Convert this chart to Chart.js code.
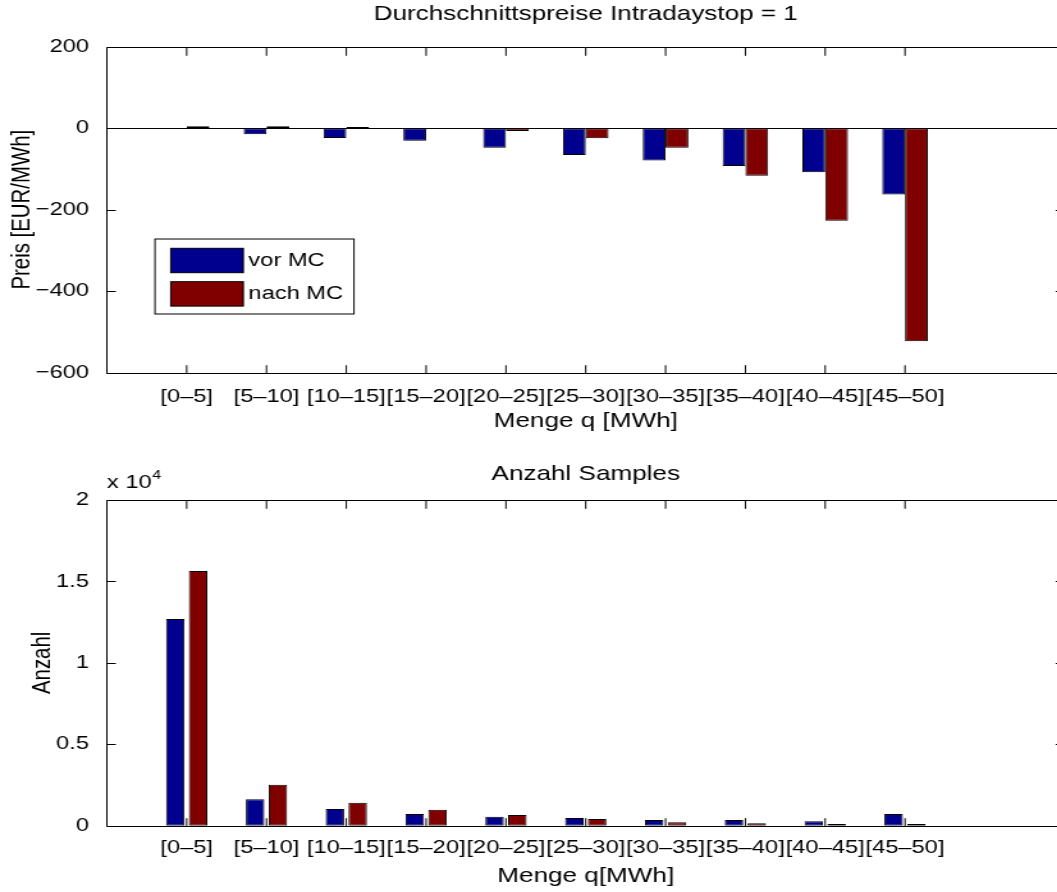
<!DOCTYPE html>
<html>
<head>
<meta charset="utf-8">
<script src="https://cdn.jsdelivr.net/npm/chart.js@4.4.0/dist/chart.umd.min.js"></script>
<style>
  html, body { margin: 0; padding: 0; background: #fff; overflow: hidden; }
  #wrap { position: relative; width: 1057px; height: 892px; overflow: hidden; }
  .panel { position: absolute; left: 0; width: 1075px; height: 446px; }
</style>
</head>
<body>
<div id="wrap">
  <div class="panel" style="top:0"><canvas id="preise" width="840" height="446" style="width:1075px;height:446px"></canvas></div>
  <div class="panel" style="top:446px"><canvas id="anzahl" width="840" height="446" style="width:1075px;height:446px"></canvas></div>
</div>
<script>
// Klassen der Menge q
const sizeLabels = ['[0–5]', '[5–10]', '[10–15]', '[15–20]', '[20–25]', '[25–30]', '[30–35]', '[35–40]', '[40–45]', '[45–50]'];
const seriesNames = ['vor MC', 'nach MC'];

// Durchschnittspreise [EUR/MWh]
const vorPreis  = [-1, -15, -24, -31, -48, -66, -79, -93, -108, -163];
const nachPreis = [5, 5, 3, -1, -7, -25, -48, -117, -227, -523];

// Anzahl Samples
const vorAnzahl  = [12690, 1620, 1025, 716, 553, 471, 348, 348, 266, 716];
const nachAnzahl = [15640, 2518, 1412, 982, 655, 409, 205, 143, 102, 102];

const preisTicks = [-600, -400, -200, 0, 200];
const anzahlTicks = [0, 5000, 10000, 15000, 20000];

const blue = 'rgb(0,0,143)';
const red = 'rgb(128,0,0)';
const fam = '"Liberation Sans", Arial, Helvetica, sans-serif';
const tickFont = { family: fam, size: 18.5 };
const labelFont = { family: fam, size: 20.4 };

// the whole figure is stretched horizontally (canvas 840px shown as 1075px)
const toPoints = arr => arr.map((v, i) => ({ x: i + 1, y: v }));

// MATLAB style box, inward ticks and bar baseline
const matlabFrame = {
  id: 'matlabFrame',
  beforeDatasetsDraw(chart, args, opts) {
    if (!opts.zeroLine) return;
    const { ctx, chartArea: a, scales: { y } } = chart;
    const y0 = Math.round(y.getPixelForValue(0)) + 0.5;
    ctx.save();
    ctx.strokeStyle = '#000';
    ctx.lineWidth = 1;
    ctx.beginPath();
    ctx.moveTo(a.left, y0);
    ctx.lineTo(a.right, y0);
    ctx.stroke();
    ctx.restore();
  },
  afterDatasetsDraw(chart, args, opts) {
    const { ctx, chartArea: a, scales: { x, y } } = chart;
    const top = Math.round(a.top) + 0.5;
    const bottom = Math.round(a.bottom) + 0.5;
    ctx.save();
    ctx.strokeStyle = '#000';
    ctx.lineWidth = 1;
    ctx.beginPath();
    x.ticks.forEach(t => {
      const px = x.getPixelForValue(t.value);
      ctx.moveTo(px, bottom); ctx.lineTo(px, bottom - 8.3);
      ctx.moveTo(px, top); ctx.lineTo(px, top + 8.3);
    });
    y.ticks.forEach(t => {
      const py = Math.round(y.getPixelForValue(t.value)) + 0.5;
      ctx.moveTo(a.left, py); ctx.lineTo(a.left + 7, py);
      ctx.moveTo(a.right, py); ctx.lineTo(a.right - 7, py);
    });
    ctx.moveTo(a.left, top); ctx.lineTo(a.right, top);
    ctx.moveTo(a.left, bottom); ctx.lineTo(a.right, bottom);
    ctx.moveTo(a.left, top); ctx.lineTo(a.left, bottom);
    ctx.moveTo(a.right, top); ctx.lineTo(a.right, bottom);
    ctx.stroke();
    ctx.restore();
  }
};

// legend box inside the axes (upper chart)
const boxLegend = {
  id: 'boxLegend',
  afterDraw(chart, args, o) {
    if (!o.show) return;
    const ctx = chart.ctx;
    ctx.save();
    ctx.lineWidth = 1;
    ctx.strokeStyle = '#000';
    ctx.fillStyle = '#fff';
    ctx.fillRect(o.x, o.y, o.w, o.h);
    ctx.strokeRect(o.x, o.y, o.w, o.h);
    ctx.font = '18.5px ' + fam;
    ctx.textBaseline = 'middle';
    chart.data.datasets.forEach((ds, i) => {
      const sy = o.y + 9.3 + i * 33.4;
      ctx.fillStyle = ds.backgroundColor;
      ctx.fillRect(o.x + 12.3, sy, 56.7, 24.4);
      ctx.strokeRect(o.x + 12.3, sy, 56.7, 24.4);
      ctx.fillStyle = '#000';
      ctx.fillText(ds.label, o.x + 73, sy + 12.5);
    });
    ctx.restore();
  }
};

// "x 10^4" exponent label above the lower axes
const expLabel = {
  id: 'expLabel',
  afterDraw(chart, args, o) {
    if (!o.show) return;
    const { ctx, chartArea: a } = chart;
    ctx.save();
    ctx.fillStyle = '#000';
    ctx.textBaseline = 'alphabetic';
    ctx.font = '18.5px ' + fam;
    ctx.fillText('x 10', a.left, 42);
    const w = ctx.measureText('x 10').width;
    ctx.font = '12.5px ' + fam;
    ctx.fillText('4', a.left + w + 0.5, 33);
    ctx.restore();
  }
};

function makeChart(id, cfg) {
  return new Chart(document.getElementById(id), {
    type: 'bar',
    data: {
      datasets: [
        { label: seriesNames[0], data: toPoints(cfg.vor), backgroundColor: blue },
        { label: seriesNames[1], data: toPoints(cfg.nach), backgroundColor: red }
      ]
    },
    options: {
      responsive: false,
      animation: false,
      devicePixelRatio: 1,
      datasets: {
        bar: {
          borderColor: '#000',
          borderWidth: 1,
          borderSkipped: false,
          categoryPercentage: 0.571,
          barPercentage: cfg.barPct
        }
      },
      layout: { padding: { left: 0, right: 8.1, top: 0, bottom: 0 } },
      plugins: {
        legend: { display: false },
        tooltip: { enabled: false },
        title: {
          display: true,
          text: cfg.title,
          fullSize: false,
          color: '#000',
          font: Object.assign({ weight: 'normal' }, labelFont),
          padding: cfg.titlePad
        },
        matlabFrame: { zeroLine: cfg.zeroLine },
        boxLegend: { show: cfg.legend, x: 121.1, y: 239, w: 155.5, h: 75 },
        expLabel: { show: cfg.exp }
      },
      scales: {
        x: {
          type: 'linear',
          min: 0,
          max: 12,
          offset: false,
          afterBuildTicks: s => { s.ticks = s.ticks.filter(t => t.value >= 1 && t.value <= sizeLabels.length); },
          afterFit: s => { s.height = cfg.xHeight; },
          grid: { display: false, drawTicks: false },
          border: { display: false },
          ticks: {
            stepSize: 1,
            autoSkip: false,
            maxRotation: 0,
            minRotation: 0,
            padding: cfg.xTickPad,
            color: '#000',
            font: tickFont,
            callback: v => sizeLabels[v - 1]
          },
          title: { display: true, text: cfg.xTitle, color: '#000', font: labelFont, padding: { top: 0, bottom: cfg.xTitlePad } }
        },
        y: {
          min: cfg.ticks[0],
          max: cfg.ticks[cfg.ticks.length - 1],
          afterBuildTicks: s => { s.ticks = cfg.ticks.map(v => ({ value: v })); },
          afterFit: s => { s.width = 83.5; },
          grid: { display: false, drawTicks: false },
          border: { display: false },
          ticks: { padding: 14, color: '#000', font: tickFont, callback: cfg.yFmt },
          title: { display: true, text: cfg.yTitle, color: '#000', font: labelFont, padding: { top: cfg.yTitlePad, bottom: 0 } }
        }
      }
    },
    plugins: [matlabFrame, boxLegend, expLabel]
  });
}

makeChart('preise', {
  vor: vorPreis,
  nach: nachPreis,
  ticks: preisTicks,
  barPct: 1,
  title: 'Durchschnittspreise Intradaystop = 1',
  titlePad: { top: 1.8, bottom: 20.4 },
  xTitle: 'Menge q [MWh]',
  xHeight: 73.3,
  xTickPad: 12.9,
  xTitlePad: 12.8,
  yTitle: 'Preis [EUR/MWh]',
  yTitlePad: 5.3,
  yFmt: v => (v < 0 ? '−' + Math.abs(v) : String(v)),
  zeroLine: true,
  legend: true,
  exp: false
});

makeChart('anzahl', {
  vor: vorAnzahl,
  nach: nachAnzahl,
  ticks: anzahlTicks,
  barPct: 0.81,
  title: 'Anzahl Samples',
  titlePad: { top: 15.8, bottom: 13.7 },
  xTitle: 'Menge q[MWh]',
  xHeight: 66.3,
  xTickPad: 11.2,
  xTitlePad: 3.8,
  yTitle: 'Anzahl',
  yTitlePad: 21,
  yFmt: v => String(v / 10000),
  zeroLine: false,
  legend: false,
  exp: true
});
</script>
</body>
</html>
